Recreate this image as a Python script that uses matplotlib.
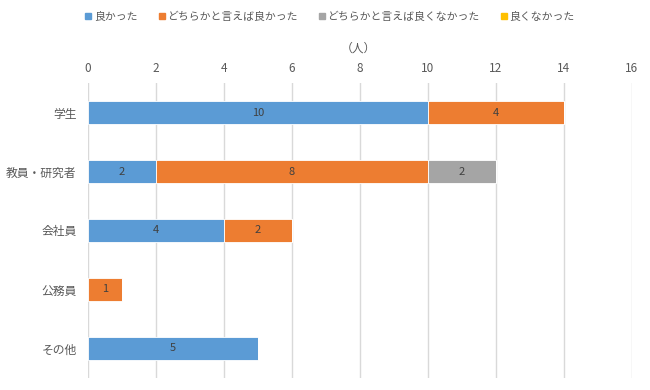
import matplotlib.pyplot as plt
from matplotlib.lines import Line2D

plt.rcParams['font.family'] = ['Noto Sans CJK JP', 'DejaVu Sans']

categories = ['学生', '教員・研究者', '会社員', '公務員', 'その他']
series_names = ['良かった', 'どちらかと言えば良かった', 'どちらかと言えば良くなかった', '良くなかった']
good = [10, 2, 4, 0, 5]
rather_good = [4, 8, 2, 1, 0]
rather_bad = [0, 2, 0, 0, 0]
bad = [0, 0, 0, 0, 0]
colors = ['#5B9BD5', '#ED7D31', '#A5A5A5', '#FFC000']

fig = plt.figure(figsize=(6.5, 3.9), dpi=100)
ax = fig.add_axes([0.135, 0.031, 0.837, 0.756])

y = list(range(len(categories)))
left = [0] * len(categories)
for name, vals, c in zip(series_names, [good, rather_good, rather_bad, bad], colors):
    bars = ax.barh(y, vals, left=left, height=0.39, color=c, edgecolor='white',
                   linewidth=0.6, label=name, zorder=3)
    for b, v, l in zip(bars, vals, left):
        if v > 0:
            ax.text(l + v / 2, b.get_y() + b.get_height() / 2, str(v),
                    ha='center', va='center', fontsize=8, color='#404040', zorder=4)
    left = [a + b for a, b in zip(left, vals)]

ax.set_xlim(0, 16)
ax.set_ylim(len(categories) - 0.5, -0.5)
ax.set_xticks(range(0, 17, 2))
ax.set_yticks(y)
ax.set_yticklabels(categories)
ax.xaxis.tick_top()
ax.tick_params(axis='both', length=0, labelsize=8.5, colors='#595959')
ax.tick_params(axis='x', pad=6)
ax.tick_params(axis='y', pad=8)
ax.grid(axis='x', color='#D9D9D9', linewidth=1, zorder=0)
for s in ax.spines.values():
    s.set_visible(False)

fig.text(0.551, 0.877, '（人）', ha='center', va='center', fontsize=8.5, color='#595959')

handles = [Line2D([], [], marker='s', linestyle='', markersize=4.5, color=c) for c in colors]
fig.legend(handles, series_names, loc='center', bbox_to_anchor=(0.507, 0.957), ncol=4,
           frameon=False, fontsize=7.8, handletextpad=0.15, columnspacing=1.9,
           handlelength=0.7, labelcolor='#595959')

fig.savefig('out.png', dpi=100)
